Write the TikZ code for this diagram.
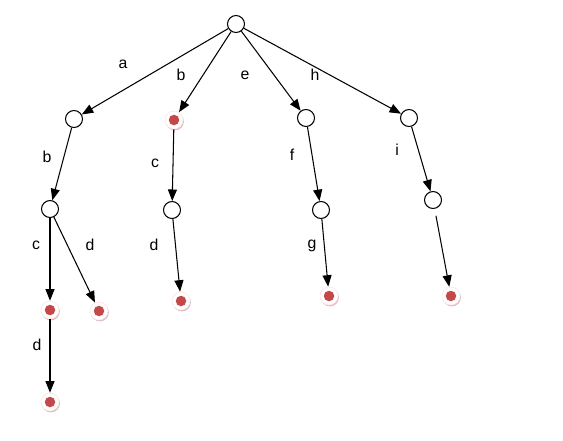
\documentclass[tikz,border=0pt]{standalone}
\usepackage{fontspec}
\setmainfont{Liberation Sans}
\usetikzlibrary{arrows.meta,shadows}
\definecolor{rougepoint}{RGB}{196,72,72}
\tikzset{
  etat/.style={circle,draw,line width=0.6pt,fill=white,minimum size=0.34cm,inner sep=0pt},
  final/.style={circle,draw=red!10,fill=white,minimum size=0.36cm,inner sep=0pt,
    drop shadow={shadow xshift=0.5pt,shadow yshift=-0.8pt,fill=red!30!gray!50,opacity=0.8},
    path picture={\fill[rougepoint] (path picture bounding box.center) circle (0.105cm);}},
  fleche/.style={-{Triangle[length=0.23cm,width=0.18cm]},line width=0.6pt},
  lettre/.style={font=\fontsize{9}{10}\selectfont}
}
\begin{document}
\begin{tikzpicture}[x=0.02cm,y=-0.02cm]
				% cadre
				\useasboundingbox (0,0) rectangle (563,440);
				% Noeuds
				\node [etat] (r) at (236,24) {};
				\node [etat] (a1) at (74,119) {};
				\node [final] (b1) at (174,120) {};
				\node [etat] (e1) at (306,118) {};
				\node [etat] (h1) at (409,118) {};
				\node [etat] (a2) at (50,209) {};
				\node [etat] (b2) at (172,210) {};
				\node [etat] (e2) at (321,210) {};
				\node [etat] (h2) at (433,200) {};
				\node [final] (a3) at (50,310) {};
				\node [final] (a5) at (99,311) {};
				\node [final] (b3) at (181,301) {};
				\node [final] (e3) at (329,296) {};
				\node [final] (h3) at (451,296) {};
				\node [final] (a4) at (50,402) {};
				% Flèches
				\draw [fleche] (r) -- (a1);
				\draw [fleche] (r) -- (b1);
				\draw [fleche] (r) -- (e1);
				\draw [fleche] (r) -- (h1);
				\draw [fleche] (a1) -- (a2);
				\draw [fleche] (b1) -- (b2);
				\draw [fleche] (e1) -- (e2);
				\draw [fleche] (h1) -- (h2);
				\draw [fleche] (a2) -- (a3);
				\draw [fleche] (a2) -- (a5);
				\draw [fleche] (b2) -- (b3);
				\draw [fleche] (e2) -- (e3);
				\draw [fleche,shorten <=0.14cm] (h2) -- (h3);
				\draw [fleche] (a3) -- (a4);
				% Lettres
				\node [lettre] at (123,64) {a};
				\node [lettre] at (181,75) {b};
				\node [lettre] at (245,75) {e};
				\node [lettre] at (315,75) {h};
				\node [lettre] at (47,157) {b};
				\node [lettre] at (155,163) {c};
				\node [lettre] at (292,155) {f};
				\node [lettre] at (397,150) {i};
				\node [lettre] at (36,245) {c};
				\node [lettre] at (90,245) {d};
				\node [lettre] at (154,245) {d};
				\node [lettre] at (312,246) {g};
				\node [lettre] at (37,345) {d};
\end{tikzpicture}
\end{document}
